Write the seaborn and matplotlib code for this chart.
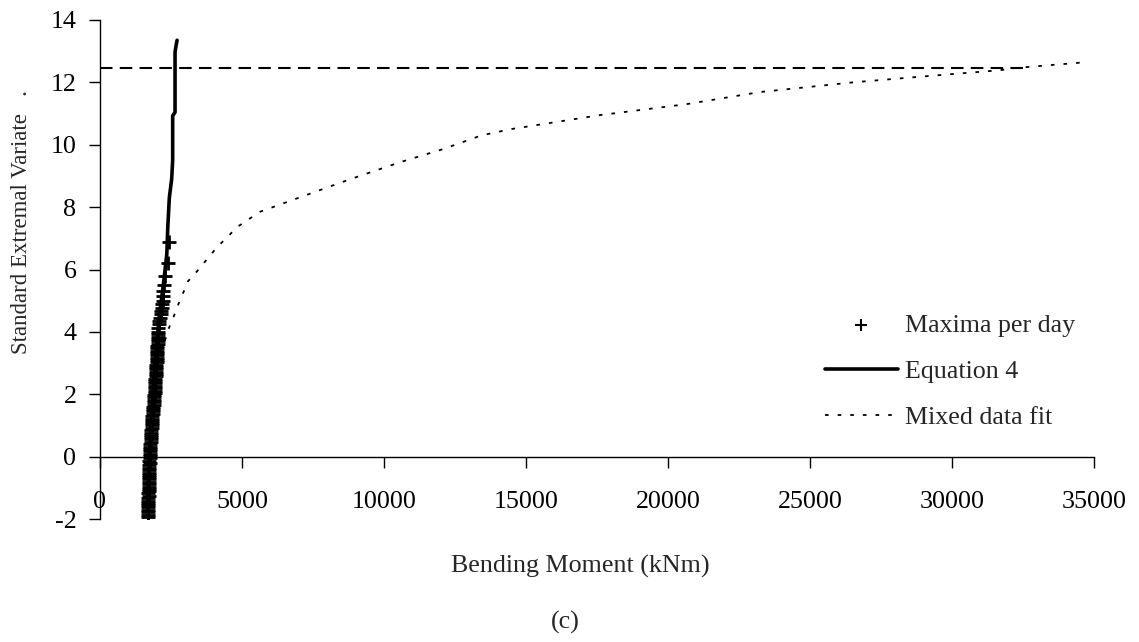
import numpy as np
import pandas as pd
import seaborn as sns
import matplotlib
matplotlib.use("Agg")
import matplotlib.pyplot as plt

# daily maxima (bending moment kNm, standard extremal variate)
max_moment = [1683, 1683, 1694, 1683, 1694, 1704, 1694, 1704, 1704, 1714,
              1704, 1714, 1714, 1725, 1714, 1725, 1725, 1725, 1735, 1725,
              1735, 1735, 1735, 1745, 1735, 1745, 1745, 1756, 1766, 1766,
              1776, 1776, 1787, 1787, 1797, 1797, 1807, 1807, 1817, 1828,
              1828, 1838, 1848, 1848, 1859, 1869, 1879, 1879, 1890, 1900,
              1900, 1910, 1910, 1920, 1931, 1931, 1941, 1941, 1951, 1951,
              1962, 1962, 1972, 1972, 1982, 1982, 1993, 1993, 2003, 2003,
              2013, 2013, 2023, 2023, 2034, 2034, 2044, 2044, 2054, 2054,
              2052, 2077, 2088, 2112, 2137, 2147, 2173, 2194, 2208, 2229,
              2229, 2264, 2288, 2384, 2440]
max_variate = [-1.95, -1.86, -1.79, -1.71, -1.63, -1.56, -1.48, -1.41, -1.33, -1.26,
               -1.18, -1.11, -1.03, -0.96, -0.88, -0.81, -0.73, -0.66, -0.58, -0.51,
               -0.43, -0.36, -0.28, -0.21, -0.13, -0.06, 0.02, 0.10, 0.17, 0.25,
               0.32, 0.40, 0.47, 0.55, 0.62, 0.70, 0.77, 0.85, 0.92, 1.00,
               1.07, 1.15, 1.22, 1.30, 1.37, 1.45, 1.52, 1.60, 1.67, 1.75,
               1.82, 1.90, 1.97, 2.05, 2.12, 2.20, 2.27, 2.35, 2.42, 2.50,
               2.57, 2.65, 2.72, 2.80, 2.87, 2.95, 3.02, 3.10, 3.17, 3.25,
               3.32, 3.40, 3.47, 3.55, 3.62, 3.70, 3.77, 3.85, 3.92, 4.00,
               4.13, 4.24, 4.34, 4.45, 4.56, 4.66, 4.77, 4.88, 4.99, 5.15,
               5.31, 5.49, 5.79, 6.20, 6.89]

# Equation 4
eq4_moment = [1673, 1725, 1828, 1941, 2085, 2230, 2353, 2384, 2441, 2523,
              2559, 2559, 2642, 2642, 2683, 2714]
eq4_variate = [-1.9, 0.0, 1.5, 3.0, 4.5, 5.5, 6.5, 7.3, 8.3, 8.9,
               9.5, 10.93, 11.04, 12.97, 13.2, 13.35]

# mixed data fit
mix_moment = [1683, 1725, 1848, 2044, 2322, 2405, 2559, 2700, 2876, 3054,
              3095, 3414, 4115, 4857, 5630, 8700, 10565, 12080, 13430, 14460,
              17600, 20640, 23240, 26510, 29120, 31690, 32220, 34750]
mix_variate = [-1.9, 0.0, 2.0, 3.2, 3.81, 4.08, 4.40, 4.75, 5.15, 5.50,
               5.62, 5.94, 6.71, 7.38, 7.85, 8.86, 9.44, 9.86, 10.3, 10.5,
               10.95, 11.3, 11.69, 12.0, 12.2, 12.39, 12.46, 12.65]

# horizontal reference level
ref_moment = [0, 32500]
ref_variate = [12.47, 12.47]

sns.set_style("white")
plt.rcParams['font.family'] = ['Liberation Serif', 'DejaVu Serif']
plt.rcParams['axes.unicode_minus'] = False
fs = 18.7

fig = plt.figure(figsize=(11.39, 6.42), dpi=100)
ax = fig.add_axes([100 / 1139, 123 / 642, 994 / 1139, 499 / 642])

sns.lineplot(x=ref_moment, y=ref_variate, ax=ax, color='black', lw=1.5,
             linestyle=(0, (6, 3.5)), sort=False, estimator=None)
sns.lineplot(x=mix_moment, y=mix_variate, ax=ax, color='black', lw=1.3,
             linestyle=(0, (2, 5)), sort=False, estimator=None,
             label='Mixed data fit')
sns.lineplot(x=eq4_moment, y=eq4_variate, ax=ax, color='black', lw=2.6,
             sort=False, estimator=None, label='Equation 4')
sns.scatterplot(x=max_moment, y=max_variate, ax=ax, marker='+', color='black',
                s=110, linewidth=2.0, label='Maxima per day', zorder=5)

ax.set_xlim(0, 35000)
ax.set_ylim(-2, 14)
ax.set_xticks(range(0, 35001, 5000))
ax.set_yticks(range(-2, 15, 2))
ax.tick_params(labelsize=fs)

ax.spines['top'].set_visible(False)
ax.spines['right'].set_visible(False)
ax.spines['bottom'].set_position(('data', 0))
for side in ['bottom', 'left']:
    ax.spines[side].set_linewidth(1.0)
    ax.spines[side].set_color('black')
ax.tick_params(axis='x', direction='out', length=8, width=1, pad=17, colors='black')
ax.tick_params(axis='y', direction='out', length=8, width=1, pad=9, colors='black')
ax.tick_params(left=True, bottom=True)

handles, labels = ax.get_legend_handles_labels()
order = [labels.index(l) for l in ['Maxima per day', 'Equation 4', 'Mixed data fit']]
leg = ax.legend([handles[i] for i in order], [labels[i] for i in order],
                loc='center left', bbox_to_anchor=(825 / 1139, 1 - 371 / 642),
                bbox_transform=fig.transFigure, frameon=False, borderpad=0,
                borderaxespad=0, handlelength=2.8, handletextpad=0.28,
                labelspacing=0.88, fontsize=fs)
for h in leg.legend_handles[:1]:
    h.set_sizes([70])
    h.set_linewidth(1.5)

fig.text(22 / 1139, 1 - 222 / 642, 'Standard Extremal Variate   .',
         rotation=90, ha='center', va='center', fontsize=16.5)
fig.text(580 / 1139, 1 - 566 / 642, 'Bending Moment (kNm)',
         ha='center', va='center', fontsize=fs)
fig.text(565 / 1139, 1 - 622 / 642, '(c)', ha='center', va='center', fontsize=fs)

fig.savefig('out.png', dpi=100)
